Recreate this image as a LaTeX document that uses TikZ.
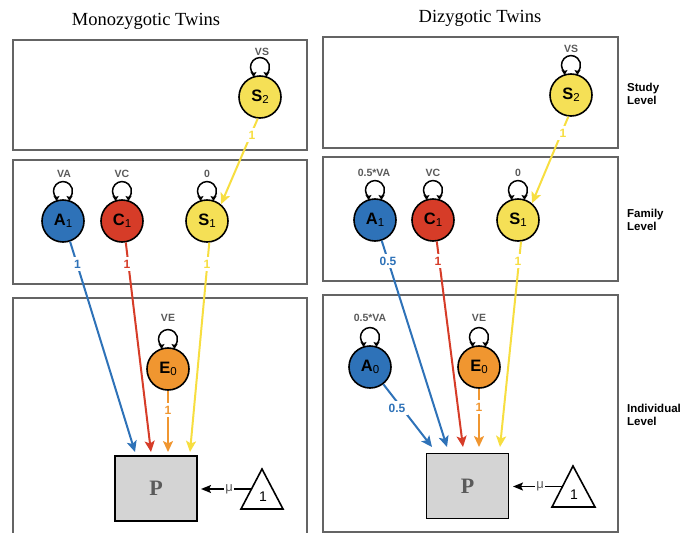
\documentclass[tikz,border=0pt]{standalone}
\usepackage{fontspec}
\setmainfont{Liberation Serif}
\newfontfamily\hel{Liberation Sans}
\usetikzlibrary{arrows.meta,calc}
\definecolor{cblue}{RGB}{46,114,184}
\definecolor{cred}{RGB}{214,60,40}
\definecolor{cyel}{RGB}{245,224,86}
\definecolor{cyell}{RGB}{247,222,64}
\definecolor{corg}{RGB}{240,150,48}
\definecolor{framec}{RGB}{100,100,100}
\definecolor{lblc}{RGB}{90,90,90}
\definecolor{pgray}{RGB}{212,212,212}
\newcommand\lv[2]{{\fontsize{16.5}{16.5}\selectfont\bfseries #1}{\fontsize{11.5}{11.5}\selectfont\raisebox{-1.8pt}{#2}}}
\tikzset{
  panel/.style={draw=framec, line width=2pt},
  lat/.style={circle, draw=black, line width=1.6pt, minimum size=42pt, inner sep=0pt, font=\hel},
  varlbl/.style={font=\hel\bfseries\fontsize{10.5}{11}\selectfont, text=lblc, inner sep=0pt},
  pathlbl/.style={font=\hel\bfseries\fontsize{12}{13}\selectfont, fill=white, inner sep=2.5pt},
  conn/.style={line width=2pt, -{Stealth[length=11pt,width=10pt,inset=2.5pt]}},
  loopst/.style={line width=1.5pt, {Stealth[length=5pt,width=6pt,inset=1pt]}-{Stealth[length=5pt,width=6pt,inset=1pt]}},
  obs/.style={draw=black, fill=pgray, line width=1.8pt, minimum width=82pt, minimum height=65pt, inner sep=0pt,
    font=\bfseries\fontsize{22}{22}\selectfont, text=lblc},
  title/.style={font=\fontsize{18.5}{21}\selectfont, inner sep=0pt},
  levlbl/.style={font=\hel\bfseries\fontsize{11.5}{13}\selectfont, align=left, anchor=west, inner sep=0pt},
  mulbl/.style={font=\hel\fontsize{13}{13}\selectfont, text=lblc, fill=white, inner sep=1pt},
  tri/.style={draw=black, line width=1.6pt, line join=miter}
}
\newcommand\selfloop[1]{%
  \draw[loopst] ([shift={(-6.5pt,20pt)}]#1.center) -- ++(0pt,3pt)
    arc[start angle=226.8, end angle=-46.8, radius=9.5pt] -- ++(0pt,-3pt);}
\begin{document}
\begin{tikzpicture}[x=1pt,y=-1pt]
\useasboundingbox (0,0) rectangle (681,533);
% titles
\node[title] (tmz) at (146,21) {Monozygotic Twins};
\node[title] (tdz) at (480,18) {Dizygotic Twins};
% panels
\draw[panel] (13,40) rectangle (307,150);
\draw[panel] (13,160) rectangle (307,284);
\draw[panel] (13,298) rectangle (307,537);
\draw[panel] (323,37) rectangle (618,148);
\draw[panel] (323,157) rectangle (618,281);
\draw[panel] (323,295) rectangle (618,532);
% level labels
\node[levlbl] (lstudy) at (627,94) {Study\\Level};
\node[levlbl] (lfam) at (627,219.5) {Family\\Level};
\node[levlbl] (lind) at (627,415) {Individual\\Level};

% ===== Left (MZ) =====
\node[lat, fill=cyel] (S2a) at (260,97) {\lv{S}{2}};
\node[lat, fill=cblue] (A1a) at (63,221) {\lv{A}{1}};
\node[lat, fill=cred] (C1a) at (122,221) {\lv{C}{1}};
\node[lat, fill=cyel] (S1a) at (207,221) {\lv{S}{1}};
\node[lat, fill=corg] (E0a) at (168,369) {\lv{E}{0}};
\node[obs] (Pa) at (156,488.5) {P};
\selfloop{S2a}\selfloop{A1a}\selfloop{C1a}\selfloop{S1a}\selfloop{E0a}
\node[varlbl] (vsa) at (262,52) {VS};
\node[varlbl] (vaa) at (64,174) {VA};
\node[varlbl] (vca) at (122,174) {VC};
\node[varlbl] (v0a) at (207,174) {0};
\node[varlbl] (vea) at (168,318) {VE};
\coordinate (tAa) at (135,452);
\coordinate (tCa) at (151,452);
\coordinate (tEa) at (168,452);
\coordinate (tSa) at (190,452);
\draw[conn, draw=cyell] (S2a.264) -- (S1a.50);
\node[pathlbl, text=cyell] (l1) at (252,135) {1};
\draw[conn, draw=cblue] (A1a.289) -- (tAa);
\node[pathlbl, text=cblue] (l2) at (77.5,264) {1};
\draw[conn, draw=cred] (C1a.280) -- (tCa);
\node[pathlbl, text=cred] (l3) at (127,264) {1};
\draw[conn, draw=cyell] (S1a.276) -- (tSa);
\node[pathlbl, text=cyell] (l4) at (207,264) {1};
\draw[conn, draw=corg] (E0a) -- (tEa);
\node[pathlbl, text=corg] (l5) at (168,410) {1};
% mean triangle
\draw[tri] (262,469) -- (283,509) -- (241,509) -- cycle;
\node[font=\hel\fontsize{14}{14}\selectfont, inner sep=0pt] (onea) at (263,497) {1};
\coordinate (tla) at (251.5,489);
\coordinate (mua) at (201,489);
\draw[line width=1.5pt, -{Stealth[length=10pt,width=8pt,inset=2pt]}] (tla) -- (mua);
\node[mulbl] (mula) at (229,489) {μ};

% ===== Right (DZ) =====
\node[lat, fill=cyel] (S2b) at (571,95) {\lv{S}{2}};
\node[lat, fill=cblue] (A1b) at (375,220) {\lv{A}{1}};
\node[lat, fill=cred] (C1b) at (433,220) {\lv{C}{1}};
\node[lat, fill=cyel] (S1b) at (518,220) {\lv{S}{1}};
\node[lat, fill=cblue] (A0b) at (370,367) {\lv{A}{0}};
\node[lat, fill=corg] (E0b) at (479,367) {\lv{E}{0}};
\node[obs] (Pb) at (467.5,486) {P};
\selfloop{S2b}\selfloop{A1b}\selfloop{C1b}\selfloop{S1b}\selfloop{A0b}\selfloop{E0b}
\node[varlbl] (vsb) at (571,49) {VS};
\node[varlbl] (vab) at (374,173) {0.5*VA};
\node[varlbl] (vcb) at (433,173) {VC};
\node[varlbl] (v0b) at (518,173) {0};
\node[varlbl] (va0b) at (370,318) {0.5*VA};
\node[varlbl] (veb) at (479,318) {VE};
\coordinate (tA0b) at (432,447);
\coordinate (tAb) at (447,447);
\coordinate (tCb) at (463,447);
\coordinate (tEb) at (479,447);
\coordinate (tSb) at (500,447);
\draw[conn, draw=cyell] (S2b.263) -- (S1b.50);
\node[pathlbl, text=cyell] (m1) at (563,133) {1};
\draw[conn, draw=cblue] (A1b.288) -- (tAb);
\node[pathlbl, text=cblue] (m2) at (388,261) {0.5};
\draw[conn, draw=cred] (C1b.280) -- (tCb);
\node[pathlbl, text=cred] (m3) at (438,261) {1};
\draw[conn, draw=cyell] (S1b.278) -- (tSb);
\node[pathlbl, text=cyell] (m4) at (518,261) {1};
\draw[conn, draw=cblue] (A0b) -- (tA0b);
\node[pathlbl, text=cblue] (m5) at (397,408) {0.5};
\draw[conn, draw=corg] (E0b) -- (tEb);
\node[pathlbl, text=corg] (m6) at (479,407) {1};
% mean triangle
\draw[tri] (573,466) -- (595,507) -- (552,507) -- cycle;
\node[font=\hel\fontsize{14}{14}\selectfont, inner sep=0pt] (oneb) at (574,495) {1};
\coordinate (tlb) at (562.5,486.5);
\coordinate (mub) at (513,486.5);
\draw[line width=1.5pt, -{Stealth[length=10pt,width=8pt,inset=2pt]}] (tlb) -- (mub);
\node[mulbl] (mulb) at (540,486.5) {μ};
\end{tikzpicture}
\end{document}
